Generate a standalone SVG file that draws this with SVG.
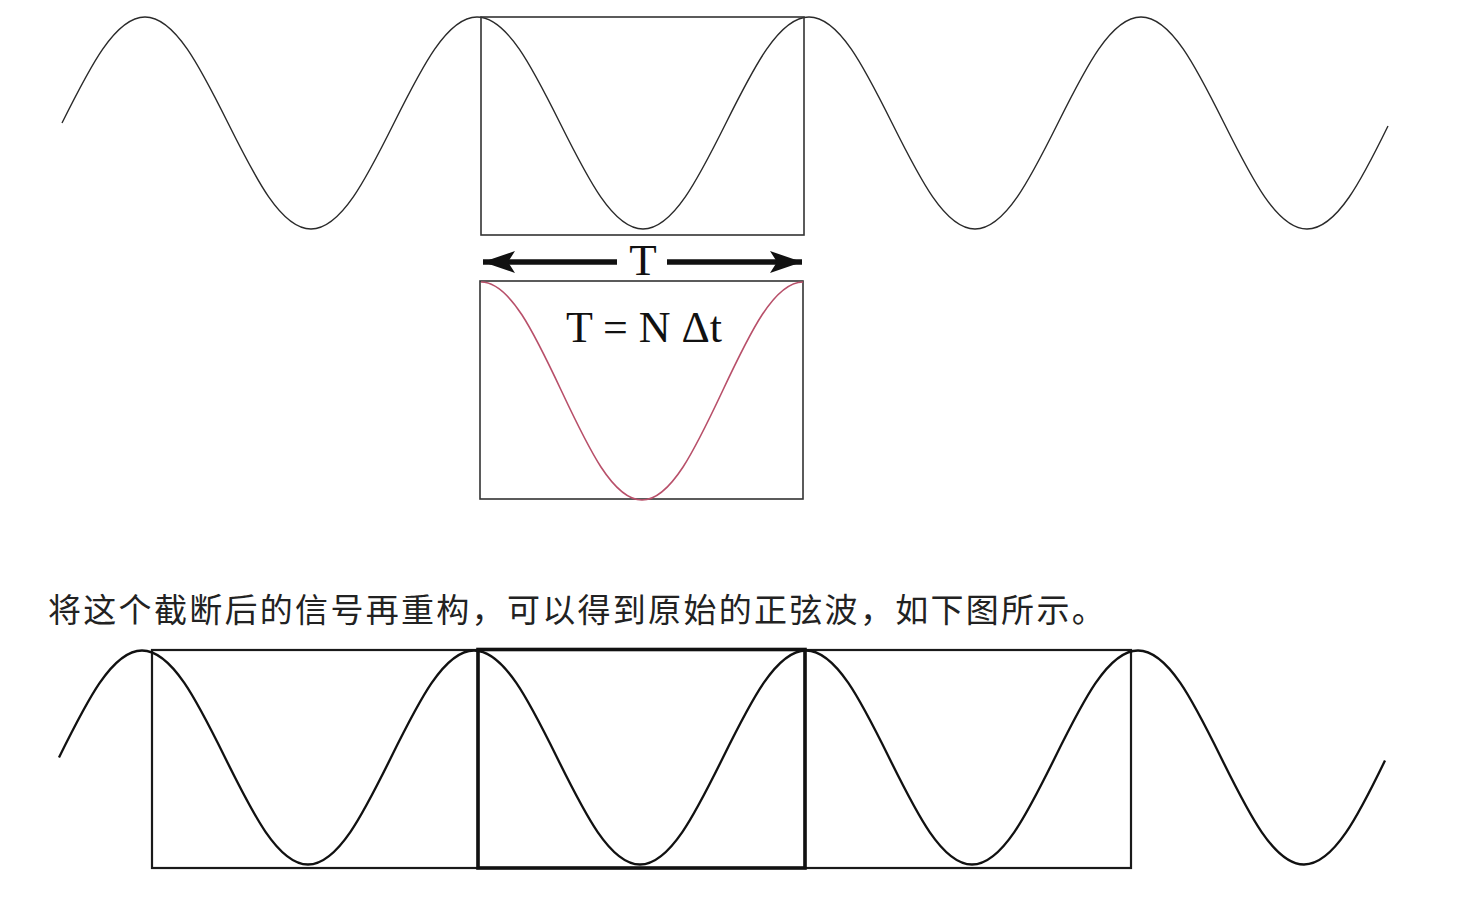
<svg xmlns="http://www.w3.org/2000/svg" width="1471" height="900" viewBox="0 0 1471 900">
<defs>
<style>
.wave1{fill:none;stroke:#2a2a2a;stroke-width:1.4}
.wave2{fill:none;stroke:#111;stroke-width:2.3}
.box1{fill:none;stroke:#333;stroke-width:1.6}
.box2{fill:none;stroke:#1a1a1a;stroke-width:2.2}
.box3{fill:none;stroke:#111;stroke-width:3.6}
.red{fill:none;stroke:#b8506a;stroke-width:1.6}
.serif{font-family:"Liberation Serif","Times New Roman",serif;fill:#111}
.cjk{font-family:"Noto Sans CJK SC","Noto Sans",sans-serif;fill:#222}
</style>
<marker id="ah" viewBox="0 0 32 22" refX="32" refY="11" markerWidth="32" markerHeight="22" markerUnits="userSpaceOnUse" orient="auto-start-reverse">
<path d="M0,0 L32,11 L0,22 L7,11 Z" fill="#111"/>
</marker>
</defs>
<rect width="1471" height="900" fill="#fff"/>

<g id="top-wave">
<path class="wave1" d="M62,123 c27.75,-55.66 53.1,-106 83,-106 c29.9,0 55.25,50.34 83,106 c27.75,55.66 53.1,106 83,106 c29.9,0 55.25,-50.34 83,-106 c27.75,-55.66 53.1,-106 83,-106 c29.9,0 55.25,50.34 83,106 c27.75,55.66 53.1,106 83,106 c29.9,0 55.25,-50.34 83,-106 c27.75,-55.66 53.1,-106 83,-106 c29.9,0 55.25,50.34 83,106 c27.75,55.66 53.1,106 83,106 c29.9,0 55.25,-50.34 83,-106 c27.75,-55.66 53.1,-106 83,-106 c29.9,0 55.25,50.34 83,106 c27.75,55.66 53.1,106 83,106 c29.9,0 55.25,-50.34 81,-103"/>
</g>

<g id="top-box">
<rect class="box1" x="481" y="17" width="323" height="218"/>
</g>

<g id="connectors">
<line x1="617" y1="262" x2="483" y2="262" stroke="#111" stroke-width="5.5" marker-end="url(#ah)"/>
<line x1="667" y1="262" x2="802" y2="262" stroke="#111" stroke-width="5.5" marker-end="url(#ah)"/>
</g>

<g id="period-label">
<text class="serif" x="643" y="275" font-size="45" text-anchor="middle">T</text>
</g>

<g id="sample-box">
<rect class="box1" x="480" y="281" width="323" height="218" stroke="#444"/>
<path class="red" d="M481,282 c29,0 53.59,51.76 80.5,109 c26.91,57.24 51.5,109 80.5,109 c29,0 53.59,-51.76 80.5,-109 c26.91,-57.24 51.5,-109 80.5,-109"/>
<text class="serif" x="644" y="342" font-size="44" text-anchor="middle">T = N Δt</text>
</g>

<g id="caption">
<text class="cjk" x="48" y="622" font-size="33" letter-spacing="2.3">将这个截断后的信号再重构，可以得到原始的正弦波，如下图所示。</text>
</g>

<g id="bottom-boxes">
<rect class="box2" x="152" y="650" width="326" height="218"/>
<rect class="box2" x="805" y="650" width="326" height="218"/>
<rect class="box3" x="478" y="649.5" width="327" height="218.5"/>
</g>

<g id="bottom-wave">
<path class="wave2" d="M59,757.5 c27.75,-56.19 53.1,-107 83,-107 c29.9,0 55.25,50.81 83,107 c27.75,56.19 53.1,107 83,107 c29.9,0 55.25,-50.81 83,-107 c27.75,-56.19 53.1,-107 83,-107 c29.9,0 55.25,50.81 83,107 c27.75,56.19 53.1,107 83,107 c29.9,0 55.25,-50.81 83,-107 c27.75,-56.19 53.1,-107 83,-107 c29.9,0 55.25,50.81 83,107 c27.75,56.19 53.1,107 83,107 c29.9,0 55.25,-50.81 83,-107 c27.75,-56.19 53.1,-107 83,-107 c29.9,0 55.25,50.81 83,107 c27.75,56.19 53.1,107 83,107 c29.9,0 55.25,-50.81 81,-104"/>
</g>
</svg>
